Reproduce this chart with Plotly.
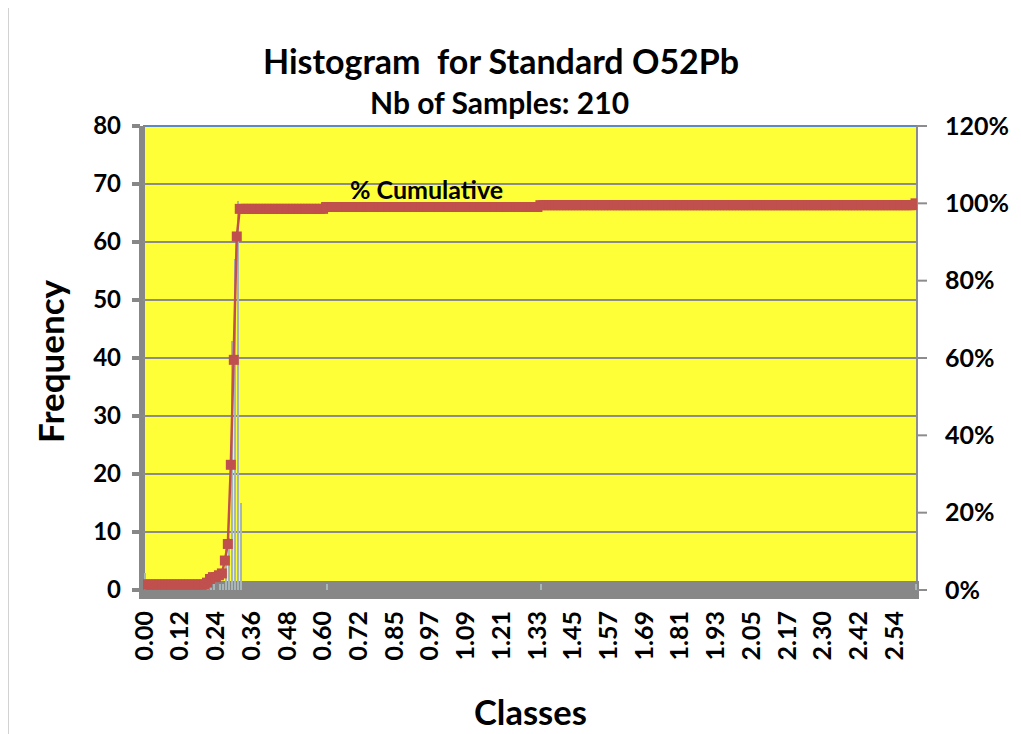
import numpy as np
import plotly.graph_objects as go

# ---------------- data ----------------
n_classes = 260
bin_width = 0.010067
n_samples = 210
# non-empty classes (index into class list) and their counts
bar_class_index = [0, 21, 22, 23, 25, 26, 27, 28, 29, 30, 31, 32, 61, 133, 259]
bar_count = [3, 1, 2, 1, 1, 1, 7, 9, 43, 57, 67, 15, 1, 1, 1]
tick_labels = ["0.00", "0.12", "0.24", "0.36", "0.48", "0.60", "0.72", "0.85",
               "0.97", "1.09", "1.21", "1.33", "1.45", "1.57", "1.69", "1.81",
               "1.93", "2.05", "2.17", "2.30", "2.42", "2.54"]
tick_every = 12
left_ticks = [0, 10, 20, 30, 40, 50, 60, 70, 80]
right_ticks = [0, 0.2, 0.4, 0.6, 0.8, 1.0, 1.2]

# ---------------- derived ----------------
idx = np.arange(n_classes)
freq = np.zeros(n_classes)
for i, c in zip(bar_class_index, bar_count):
    freq[i] = c
cum = np.cumsum(freq) / n_samples
class_values = idx * bin_width

FONT = "Lato"
RED = "#C0504D"
GRID = "#8c8c8c"

fig = go.Figure()
fig.add_trace(go.Bar(x=idx, y=freq, width=0.35, offset=0.1,
                     marker=dict(color="#a7b7b7", line=dict(width=0)),
                     name="Frequency", customdata=class_values))
fig.add_trace(go.Scatter(x=idx, y=cum, yaxis="y2", mode="lines+markers",
                         line=dict(color=RED, width=2.5),
                         marker=dict(symbol="square", size=10, color=RED),
                         name="% Cumulative", customdata=class_values))

# plot-area edges in reference pixel coordinates
L, R, T, B = 143, 917, 126, 590
OX, OY = 8, 8          # page offset of the rendered figure
W, H = 1021 - OX, 734 - OY
pw, ph = R - L, B - T

def px(xp):
    return (xp - L) / pw

def py(yp):
    return (B - yp) / ph

shapes = [
    # outer chart border
    dict(type="rect", xref="paper", yref="paper", x0=px(8), x1=px(1015), y0=py(745), y1=py(6),
         line=dict(color="#a6a6a6", width=1), layer="below"),
    # top border of plot area
    dict(type="line", xref="paper", yref="paper", x0=0, x1=1, y0=1, y1=1,
         line=dict(color="#5a8ac6", width=2), layer="between"),
    # right axis line
    dict(type="line", xref="paper", yref="paper", x0=1, x1=1, y0=0, y1=1,
         line=dict(color="#8c8c8c", width=2), layer="between"),
    # left axis thick band
    dict(type="rect", xref="paper", yref="paper", x0=px(139), x1=px(145), y0=py(597), y1=1,
         fillcolor="#878787", line=dict(width=0), layer="between"),
    # bottom axis thick band
    dict(type="rect", xref="paper", yref="paper", x0=px(139), x1=px(919), y0=py(599), y1=py(581),
         fillcolor="#878787", line=dict(width=0), layer="between"),
]
for v in left_ticks:
    yy = v / 80
    shapes.append(dict(type="line", xref="paper", yref="paper", x0=px(132), x1=px(140), y0=yy, y1=yy,
                       line=dict(color="#878787", width=4), layer="between"))
for v in right_ticks:
    yy = v / 1.2
    shapes.append(dict(type="line", xref="paper", yref="paper", x0=1, x1=px(927), y0=yy, y1=yy,
                       line=dict(color="#8c8c8c", width=2), layer="between"))

def ann(text, x, y, size, angle=0):
    return dict(text=text, xref="paper", yref="paper", x=px(x), y=py(y), textangle=angle,
                xanchor="center", yanchor="middle", showarrow=False,
                font=dict(family=FONT, size=size, color="black"))

annotations = [
    ann("<b>Histogram&nbsp;&nbsp;for Standard O52Pb</b>", 501, 60, 34),
    ann("<b>Nb of Samples: 210</b>", 499, 102, 30),
    ann("<b>Frequency</b>", 50, 361, 35, -90),
    ann("<b>Classes</b>", 530, 711, 34.5),
    ann("<b>% Cumulative</b>", 426, 189, 25),
]

fig.update_layout(
    width=W, height=H,
    margin=dict(l=L - OX, r=W - (R - OX), t=T - OY, b=H - (B - OY), pad=0),
    paper_bgcolor="white",
    plot_bgcolor="#ffff38",
    showlegend=False,
    bargap=0,
    shapes=shapes,
    annotations=annotations,
    xaxis=dict(range=[-0.5, n_classes - 0.5], tickmode="array",
               tickvals=[i * tick_every for i in range(len(tick_labels))],
               ticktext=["<b>%s</b>" % t for t in tick_labels], tickangle=-90,
               ticks="", showgrid=False, zeroline=False, showline=False,
               tickfont=dict(family=FONT, size=25, color="black"), ticklabelstandoff=15),
    yaxis=dict(range=[0, 80], tickmode="array", tickvals=left_ticks,
               ticktext=["<b>%d</b>" % v for v in left_ticks],
               showgrid=True, gridcolor=GRID, gridwidth=2, zeroline=False, showline=False,
               ticks="", tickfont=dict(family=FONT, size=24, color="black"), ticklabelstandoff=21),
    yaxis2=dict(range=[0, 1.2], overlaying="y", side="right", tickmode="array",
                tickvals=right_ticks,
                ticktext=["<b>%d%%</b>" % round(v * 100) for v in right_ticks],
                showgrid=False, zeroline=False, showline=False, ticks="",
                tickfont=dict(family=FONT, size=25, color="black"), ticklabelstandoff=27),
)

fig.write_html("out.html")
